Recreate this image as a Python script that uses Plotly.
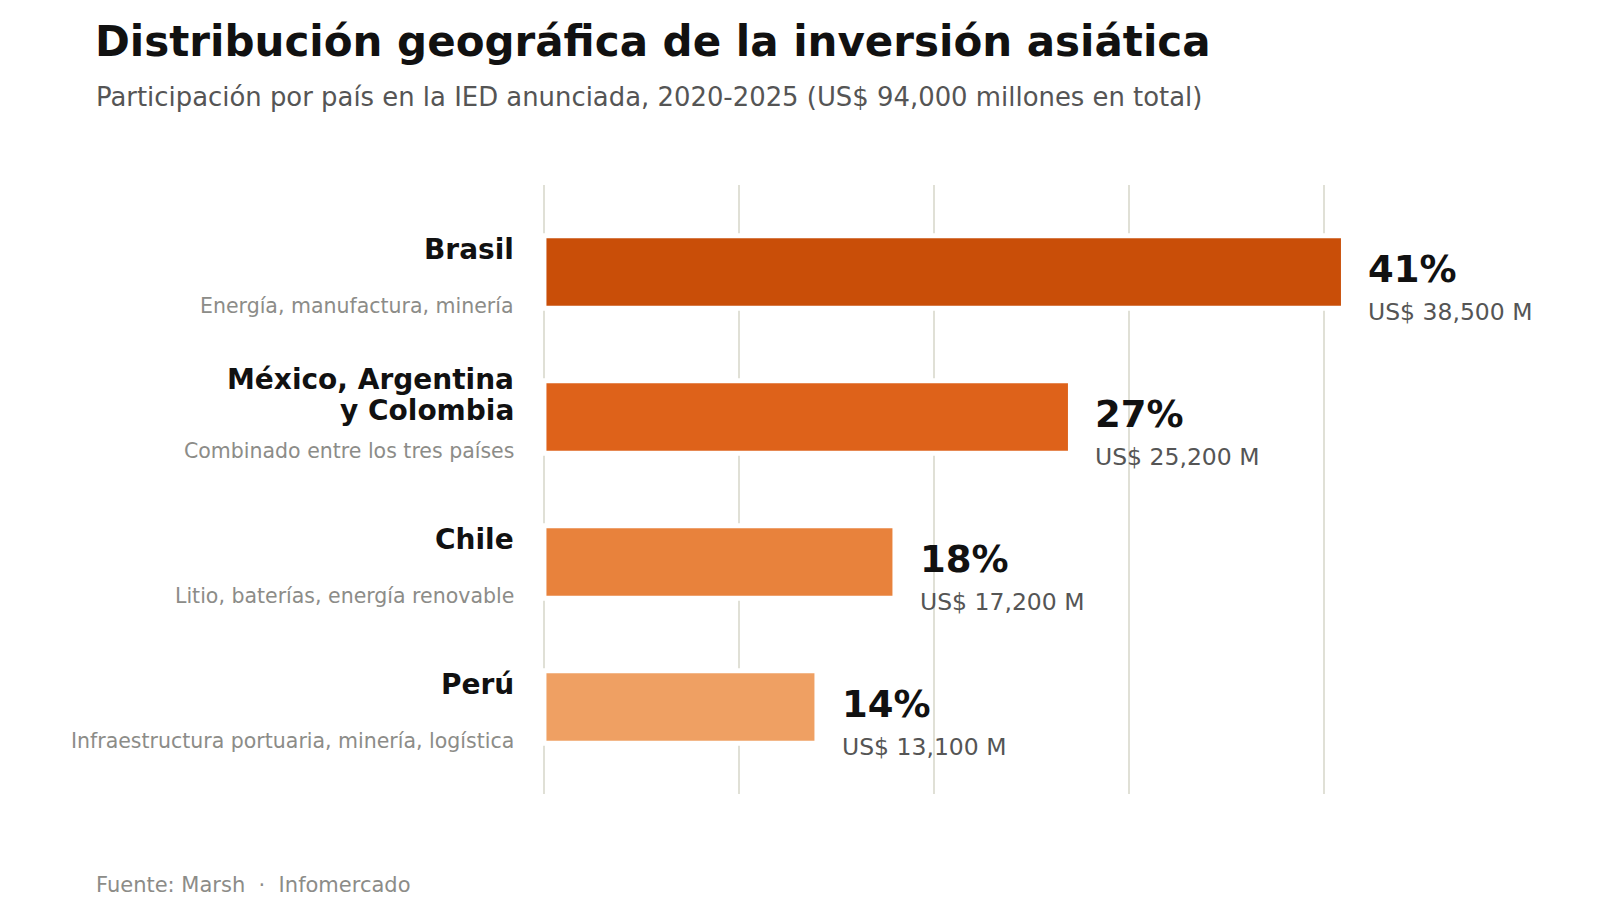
import plotly.graph_objects as go

# ── Datos ─────────────────────────────────────────────────────────────────────
paises = ["Brasil", "México, Argentina<br>y Colombia", "Chile", "Perú"]
sectores = [
    "Energía, manufactura, minería",
    "Combinado entre los tres países",
    "Litio, baterías, energía renovable",
    "Infraestructura portuaria, minería, logística",
]
participacion = [41, 27, 18, 14]          # % del total
montos = [38500, 25200, 17200, 13100]     # US$ millones
colores = ["#C94E08", "#DE621A", "#E8823C", "#EFA063"]
grid_vals = [0, 10, 20, 30, 40]

TITULO = "Distribución geográfica de la inversión asiática"
SUBTITULO = "Participación por país en la IED anunciada, 2020-2025 (US$ 94,000 millones en total)"
FUENTE = "Fuente: Marsh\u00a0\u00a0·\u00a0\u00a0Infomercado"

FONT = "DejaVu Sans"
W, H = 1600, 924
ML, MR, MT, MB = 534, 52, 177, 138
PX_UNIT = 19.5
X0 = -0.1
PW, PH = W - ML - MR, H - MT - MB


def px_x(px):
    return (px - ML) / PW


def px_y(py):
    return (H - MB - py) / PH


pos = list(range(len(paises)))

fig = go.Figure()
fig.add_trace(go.Bar(
    x=participacion, y=pos, orientation="h", width=0.5,
    marker=dict(color=colores, line=dict(color="white", width=5)),
    hoverinfo="skip", showlegend=False,
))

ann = []
for i, (p, s, v, m) in enumerate(zip(paises, sectores, participacion, montos)):
    lineas = p.split("<br>")
    n = len(lineas)
    for j, ln in enumerate(lineas):
        # centro del bloque de texto ~22 px por encima del centro de la barra
        off = 22.5 + (n - 1 - 2 * j) * 15.5
        ann.append(dict(x=0, y=i, xref="x", yref="y", text=f"<b>{ln}</b>",
                        xanchor="right", yanchor="middle", xshift=-28, yshift=off,
                        showarrow=False, font=dict(family=FONT, size=28, color="#111111")))
    ann.append(dict(x=0, y=i, xref="x", yref="y", text=s,
                    xanchor="right", yanchor="middle", xshift=-28, yshift=-34,
                    showarrow=False, font=dict(family=FONT, size=20.5, color="#8C8C88")))
    ann.append(dict(x=v, y=i, xref="x", yref="y", text=f"<b>{v}%</b>",
                    xanchor="left", yanchor="middle", xshift=23, yshift=3,
                    showarrow=False, font=dict(family=FONT, size=37, color="#111111")))
    ann.append(dict(x=v, y=i, xref="x", yref="y", text=f"US$ {m:,} M",
                    xanchor="left", yanchor="middle", xshift=23, yshift=-40,
                    showarrow=False, font=dict(family=FONT, size=23.5, color="#555555")))

ann.append(dict(x=px_x(86), y=px_y(89), xref="paper", yref="paper", text=SUBTITULO,
                xanchor="left", yanchor="middle", showarrow=False,
                font=dict(family=FONT, size=25.9, color="#555555")))
ann.append(dict(x=px_x(86), y=px_y(877), xref="paper", yref="paper", text=FUENTE,
                xanchor="left", yanchor="middle", showarrow=False,
                font=dict(family=FONT, size=21, color="#8C8C88")))

fig.update_layout(
    width=W, height=H,
    margin=dict(l=ML, r=MR, t=MT, b=MB),
    plot_bgcolor="white", paper_bgcolor="white",
    title=dict(text=f"<b>{TITULO}</b>", x=87 / W, xref="container", xanchor="left",
               y=1 - 33 / H, yref="container", yanchor="middle",
               font=dict(family=FONT, size=42, color="#111111")),
    xaxis=dict(range=[X0, X0 + PW / PX_UNIT], tickvals=grid_vals, showticklabels=False,
               showgrid=True, gridcolor="#E0E0D6", gridwidth=2,
               zeroline=False, showline=False, fixedrange=True),
    yaxis=dict(range=[3.6, -0.6], showticklabels=False, showgrid=False,
               zeroline=False, showline=False, fixedrange=True),
    annotations=ann,
)

fig.write_html("out.html")
